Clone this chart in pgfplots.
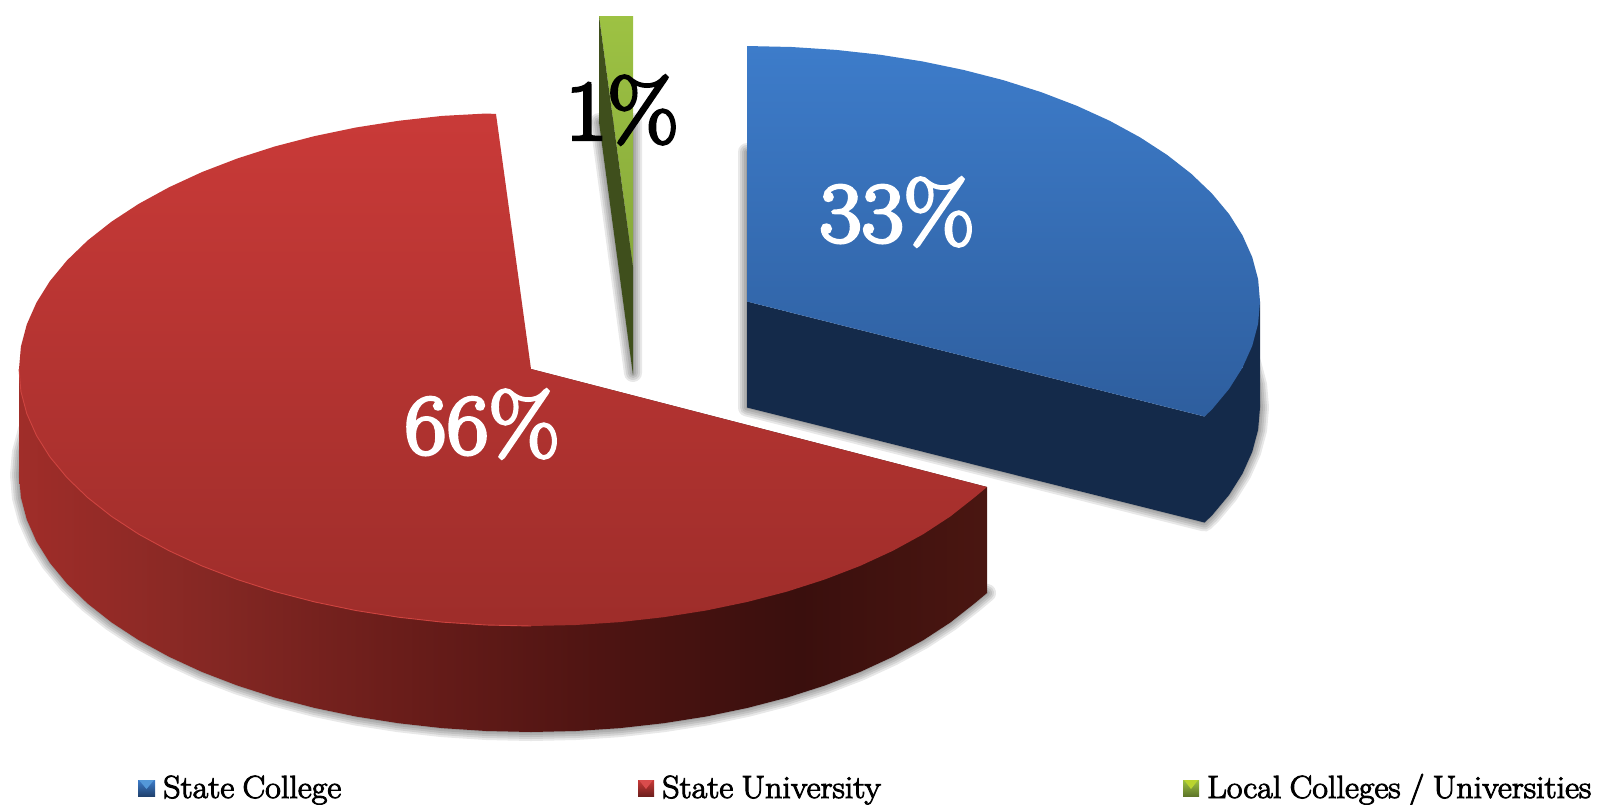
\documentclass[border=0pt]{standalone}
\usepackage{pgfplots}
\usepackage{pgfplotstable}
\usepackage{fontspec}
\setmainfont{Latin Modern Roman}
\newfontfamily\labfont{Latin Modern Roman}[FakeBold=4,FakeStretch=1.08]
\newfontfamily\legfont{Latin Modern Roman}[FakeBold=3,FakeStretch=1.065,WordSpace=0.8]
\pgfplotsset{compat=1.18}
\definecolor{cA}{HTML}{A02D29}
\definecolor{cB}{HTML}{862824}
\definecolor{cC}{HTML}{6A1D1A}
\definecolor{cD}{HTML}{4E1412}
\definecolor{cE}{HTML}{3A0F0D}
\definecolor{cF}{HTML}{4A1611}
\definecolor{bluetopc}{HTML}{3D7CCA}
\definecolor{bluebotc}{HTML}{2E5E9E}
\definecolor{bluesidec}{HTML}{142A4A}
\definecolor{redtopc}{HTML}{C93A38}
\definecolor{redbotc}{HTML}{9E2D2A}
\definecolor{redrim}{HTML}{CE4440}
\definecolor{greentopc}{HTML}{9DC243}
\definecolor{greenbotc}{HTML}{87A93B}
\definecolor{greendark}{HTML}{3F4F1C}
\pgfdeclarehorizontalshading{redsideshade}{100bp}{color(0bp)=(cA); color(25bp)=(cA); color(34.4bp)=(cB); color(44.7bp)=(cC); color(55bp)=(cD); color(65.3bp)=(cE); color(75bp)=(cF); color(100bp)=(cF)}

\pgfplotstableread{
x y
531 369
496 114
486.4 113.5
442.1 115.9
398.5 120.8
355.9 127.5
314.6 136.1
275 146.4
237.3 158.5
201.9 172.1
169 187.3
138.8 203.8
111.6 221.6
87.6 240.5
67 260.4
49.9 281.1
36.5 302.5
26.8 324.4
20.9 346.6
19 369
20.9 391.4
26.8 413.6
36.5 435.5
49.9 456.9
67 477.6
87.6 497.5
111.6 516.4
138.8 534.2
169 550.7
201.9 565.9
237.3 579.5
275 591.6
314.6 601.9
355.9 610.5
398.5 617.2
442.1 622.1
486.4 625
531 626
575.6 625
619.9 622.1
663.5 617.2
706.1 610.5
747.4 601.9
787 591.6
824.7 579.5
860.1 565.9
893 550.7
923.2 534.2
950.4 516.4
974.4 497.5
987 487
}\redtop

\pgfplotstableread{
x y
19 369
19 475
20.9 497.4
26.8 519.6
36.5 541.5
49.9 562.9
67 583.6
87.6 603.5
111.6 622.4
138.8 640.2
169 656.7
201.9 671.9
237.3 685.5
275 697.6
314.6 707.9
355.9 716.5
398.5 723.2
442.1 728.1
486.4 731
531 732
575.6 731
619.9 728.1
663.5 723.2
706.1 716.5
747.4 707.9
787 697.6
824.7 685.5
860.1 671.9
893 656.7
923.2 640.2
950.4 622.4
974.4 603.5
987 593
987 487
531 369
}\redside

\pgfplotstableread{
x y
747 301.5
747 46
791.7 47
836.1 49.9
879.8 54.7
922.4 61.4
963.8 70
1003.5 80.2
1041.3 92.2
1076.8 105.8
1109.7 120.8
1140 137.3
1167.2 155
1191.3 173.8
1211.9 193.5
1229.1 214.1
1242.5 235.4
1252.2 257.1
1258.1 279.2
1260 301.5
1258.1 323.8
1252.2 345.9
1242.5 367.6
1229.1 388.9
1211.9 409.5
1204.5 416.5
}\bluetop

\pgfplotstableread{
x y
747 301.5
747 407.5
1204.5 522.5
1211.9 515.5
1229.1 494.9
1242.5 473.6
1252.2 451.9
1258.1 429.8
1260 407.5
1260 301.5
1242.5 367.6
1204.5 416.5
}\blueside

\pgfplotstableread{
x y
599 16
616 16
633 16
633 267
}\greenlight

\pgfplotstableread{
x y
599 16
633 267
633 375
599 122
}\greenside

\newcommand{\shadowof}[2]{%
  \addplot[draw=black,draw opacity=0.09,line width=18pt,line join=round] table[y expr=\thisrow{y}+#2] {#1} --cycle;
  \addplot[draw=black,draw opacity=0.09,line width=14pt,line join=round] table[y expr=\thisrow{y}+#2] {#1} --cycle;
  \addplot[draw=black,draw opacity=0.09,line width=10pt,line join=round] table[y expr=\thisrow{y}+#2] {#1} --cycle;
  \addplot[draw=black,draw opacity=0.09,line width=6pt,line join=round] table[y expr=\thisrow{y}+#2] {#1} --cycle;
  \addplot[draw=black,draw opacity=0.09,line width=2pt,line join=round] table[y expr=\thisrow{y}+#2] {#1} --cycle;
}

\begin{document}
\begin{tikzpicture}
\useasboundingbox (0,0) rectangle (1597pt,804pt);
\begin{axis}[
  scale only axis, width=1597pt, height=804pt,
  xmin=0, xmax=1597, ymin=0, ymax=804,
  y dir=reverse, hide axis, clip=true]

% shadows
\shadowof{\redtop}{106}
\shadowof{\bluetop}{106}
\shadowof{\greenlight}{106}

% State University
\addplot[draw=none,shading=redsideshade,shading angle=0] table {\redside} --cycle;
\addplot[draw=none,top color=redtopc,bottom color=redbotc] table {\redtop} --cycle;
\addplot[draw=redrim,line width=0.9pt] coordinates {
 (19,369) (20.9,391.4) (26.8,413.6) (36.5,435.5) (49.9,456.9) (67,477.6) (87.6,497.5)
 (111.6,516.4) (138.8,534.2) (169,550.7) (201.9,565.9) (237.3,579.5) (275,591.6)
 (314.6,601.9) (355.9,610.5) (398.5,617.2) (442.1,622.1) (486.4,625) (531,626)};

% State College
\addplot[draw=none,fill=bluesidec] table {\blueside} --cycle;
\addplot[draw=none,top color=bluetopc,bottom color=bluebotc] table {\bluetop} --cycle;

% Local Colleges / Universities
\addplot[draw=none,top color=greentopc,bottom color=greenbotc] table {\greenlight} --cycle;
\addplot[draw=none,fill=greendark] table {\greenside} --cycle;

% legend keys
\addplot[draw=none,top color=bluetopc,bottom color=bluebotc!70!black] coordinates {(138,780)(155,780)(155,796)(138,796)} --cycle;
\addplot[draw=none,fill=cyan!60!blue!70!white] coordinates {(139,780)(154,780)(146.5,789)} --cycle;
\addplot[draw=none,top color=redtopc,bottom color=redbotc!70!black] coordinates {(638,780)(654,780)(654,796)(638,796)} --cycle;
\addplot[draw=none,fill=red!65!white!85!black] coordinates {(639,780)(653,780)(646,789)} --cycle;
\addplot[draw=none,top color=greentopc,bottom color=greenbotc!70!black] coordinates {(1183,780)(1199,780)(1199,796)(1183,796)} --cycle;
\addplot[draw=none,fill=greentopc!70!yellow] coordinates {(1184,780)(1198,780)(1191,789)} --cycle;

% labels
\node[text=white,font=\labfont\fontsize{85}{85}\selectfont,inner sep=0pt] at (axis cs:897,212) {33\%};
\node[text=white,font=\labfont\fontsize{85}{85}\selectfont,inner sep=0pt] at (axis cs:482,424) {66\%};
\node[text=black,font=\labfont\fontsize{85}{85}\selectfont,inner sep=0pt] at (axis cs:622,110) {1\%};
\node[anchor=base west,inner sep=0pt,font=\legfont\fontsize{32}{32}\selectfont] at (axis cs:163,798) {State College};
\node[anchor=base west,inner sep=0pt,font=\legfont\fontsize{32}{32}\selectfont] at (axis cs:662,798) {State University};
\node[anchor=base west,inner sep=0pt,font=\legfont\fontsize{32}{32}\selectfont] at (axis cs:1207,798) {Local Colleges / Universities};
\end{axis}
\end{tikzpicture}
\end{document}
